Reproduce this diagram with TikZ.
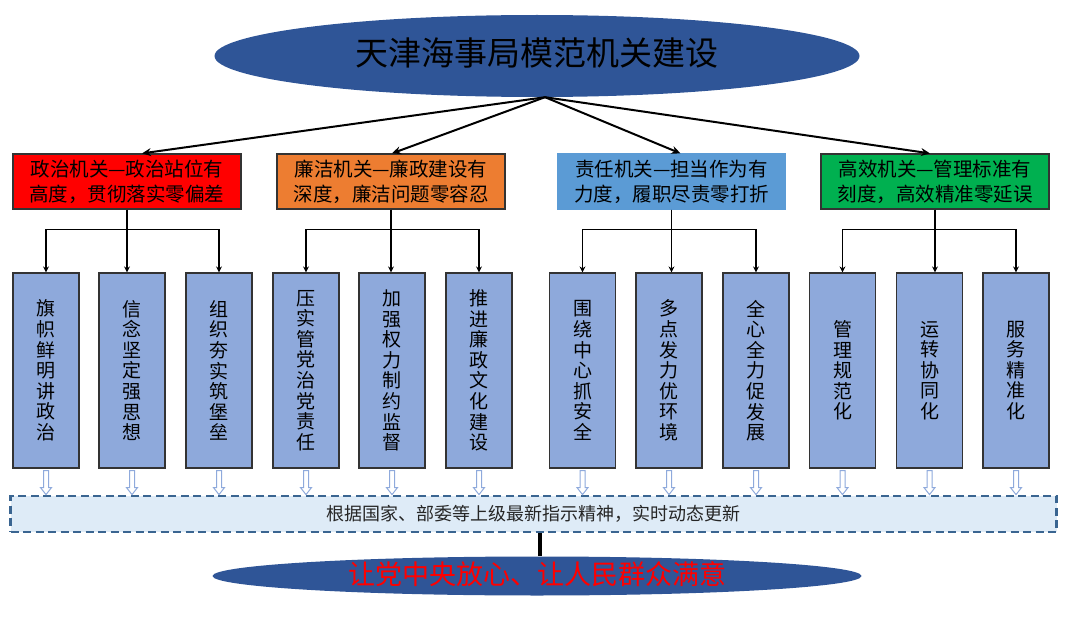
\documentclass[tikz,border=0pt]{standalone}
\usepackage{fontspec}
\setmainfont{Noto Sans CJK SC}
\usetikzlibrary{shapes,arrows.meta}
\definecolor{navy}{HTML}{2F5597}
\definecolor{hred}{HTML}{FF0000}
\definecolor{horange}{HTML}{ED7D31}
\definecolor{hblue}{HTML}{5B9BD5}
\definecolor{hgreen}{HTML}{00B050}
\definecolor{subfill}{HTML}{8EA9DB}
\definecolor{bandfill}{HTML}{DEEBF7}
\definecolor{bandline}{HTML}{3A6591}
\definecolor{hollowline}{HTML}{8FAADC}
% hollow block arrow hanging under a task box
\newcommand\hollowarrow[1]{\draw[hollow] (#1.south) ++(-2.5,2) -- ++(0,17) -- ++(-3,0) -- ++(5.5,7) -- ++(5.5,-7) -- ++(-3,0) -- ++(0,-17) -- cycle;}

\begin{document}
\begin{tikzpicture}[x=1pt,y=-1pt,
	head/.style={draw=black!80, line width=1.2pt, minimum width=228pt, minimum height=55pt, inner sep=0pt, align=center, font=\fontsize{19.5}{25}\selectfont},
	sub/.style={draw=black!80, fill=subfill, line width=1.2pt, minimum width=66pt, minimum height=195pt, inner sep=0pt, align=center, font=\fontsize{19}{20.6}\selectfont},
	tree/.style={line width=1.5pt, -{Stealth[length=6pt,width=6pt]}},
	hollow/.style={draw=hollowline, fill=white, line width=1pt, line join=miter}]
			\useasboundingbox (0,0) rectangle (1080,618);
			\node[ellipse, fill=navy, minimum width=645pt, minimum height=82pt, inner sep=0pt, text height=26pt, text depth=6pt, font=\fontsize{33}{33}\selectfont] (top) at (537,56) {天津海事局模范机关建设};
			\coordinate (apex) at ([xshift=8pt]top.south);
			% four kinds of office
			\node[head, fill=hred] (h1) at (127,181.5) {政治机关—政治站位有\\高度，贯彻落实零偏差};
			\node[head, fill=horange] (h2) at (391,181.5) {廉洁机关—廉政建设有\\深度，廉洁问题零容忍};
			\node[head, fill=hblue, draw=hblue] (h3) at (671.5,181.5) {责任机关—担当作为有\\力度，履职尽责零打折};
			\node[head, fill=hgreen] (h4) at (935,181.5) {高效机关—管理标准有\\刻度，高效精准零延误};
			\draw[line width=2pt, -{Stealth[length=9pt,width=8pt]}] (apex) -- ([xshift=15pt]h1.north);
			\draw[line width=2pt, -{Stealth[length=9pt,width=8pt]}] (apex) -- ([xshift=1pt]h2.north);
			\draw[line width=2pt, -{Stealth[length=9pt,width=8pt]}] (apex) -- ([xshift=9pt]h3.north);
			\draw[line width=2pt, -{Stealth[length=9pt,width=8pt]}] (apex) -- ([xshift=-5pt]h4.north);
			% twelve tasks
			\node[sub] (c1) at (46,370.5) {旗\\帜\\鲜\\明\\讲\\政\\治};
			\node[sub] (c2) at (132,370.5) {信\\念\\坚\\定\\强\\思\\想};
			\node[sub] (c3) at (219,370.5) {组\\织\\夯\\实\\筑\\堡\\垒};
			\node[sub] (c4) at (306,370.5) {压\\实\\管\\党\\治\\党\\责\\任};
			\node[sub] (c5) at (392,370.5) {加\\强\\权\\力\\制\\约\\监\\督};
			\node[sub] (c6) at (479,370.5) {推\\进\\廉\\政\\文\\化\\建\\设};
			\node[sub] (c7) at (582.5,370.5) {围\\绕\\中\\心\\抓\\安\\全};
			\node[sub] (c8) at (669,370.5) {多\\点\\发\\力\\优\\环\\境};
			\node[sub] (c9) at (756,370.5) {全\\心\\全\\力\\促\\发\\展};
			\node[sub] (c10) at (842.5,370.5) {管\\理\\规\\范\\化};
			\node[sub] (c11) at (929.5,370.5) {运\\转\\协\\同\\化};
			\node[sub] (c12) at (1016,370.5) {服\\务\\精\\准\\化};
			\draw[line width=1.5pt] (h1.south) -- ++(0,20) coordinate (b1);
			\draw[tree] (b1) -| (c1.north);
			\draw[tree] (b1) -| (c3.north);
			\draw[tree] (h1.south) -- (h1.south |- c2.north);
			\draw[line width=1.5pt] (h2.south) -- ++(0,20) coordinate (b2);
			\draw[tree] (b2) -| (c4.north);
			\draw[tree] (b2) -| (c6.north);
			\draw[tree] (h2.south) -- (h2.south |- c5.north);
			\draw[line width=1.5pt] (h3.south) -- ++(0,20) coordinate (b3);
			\draw[tree] (b3) -| (c7.north);
			\draw[tree] (b3) -| (c9.north);
			\draw[tree] (h3.south) -- (h3.south |- c8.north);
			\draw[line width=1.5pt] (h4.south) -- ++(0,20) coordinate (b4);
			\draw[tree] (b4) -| (c10.north);
			\draw[tree] (b4) -| (c12.north);
			\draw[tree] (h4.south) -- (h4.south |- c11.north);
			% band and goal
			\node[draw=bandline, fill=bandfill, line width=2.5pt, dash pattern=on 8pt off 4.5pt, minimum width=1046pt, minimum height=36pt, inner sep=0pt, text=black!85, font=\fontsize{18}{18}\selectfont] (band) at (533.5,514) {根据国家、部委等上级最新指示精神，实时动态更新};
			\hollowarrow{c1}
			\hollowarrow{c2}
			\hollowarrow{c3}
			\hollowarrow{c4}
			\hollowarrow{c5}
			\hollowarrow{c6}
			\hollowarrow{c7}
			\hollowarrow{c8}
			\hollowarrow{c9}
			\hollowarrow{c10}
			\hollowarrow{c11}
			\hollowarrow{c12}
			\node[ellipse, fill=navy, minimum width=649pt, minimum height=39pt, inner sep=0pt, text height=21pt, text depth=4pt, text=red, font=\fontsize{27}{27}\selectfont] (goal) at (537,576) {让党中央放心、让人民群众满意};
			\draw[line width=4.5pt] ([xshift=3pt]goal.north |- band.south) -- ([xshift=3pt]goal.north);
		\end{tikzpicture}
\end{document}
